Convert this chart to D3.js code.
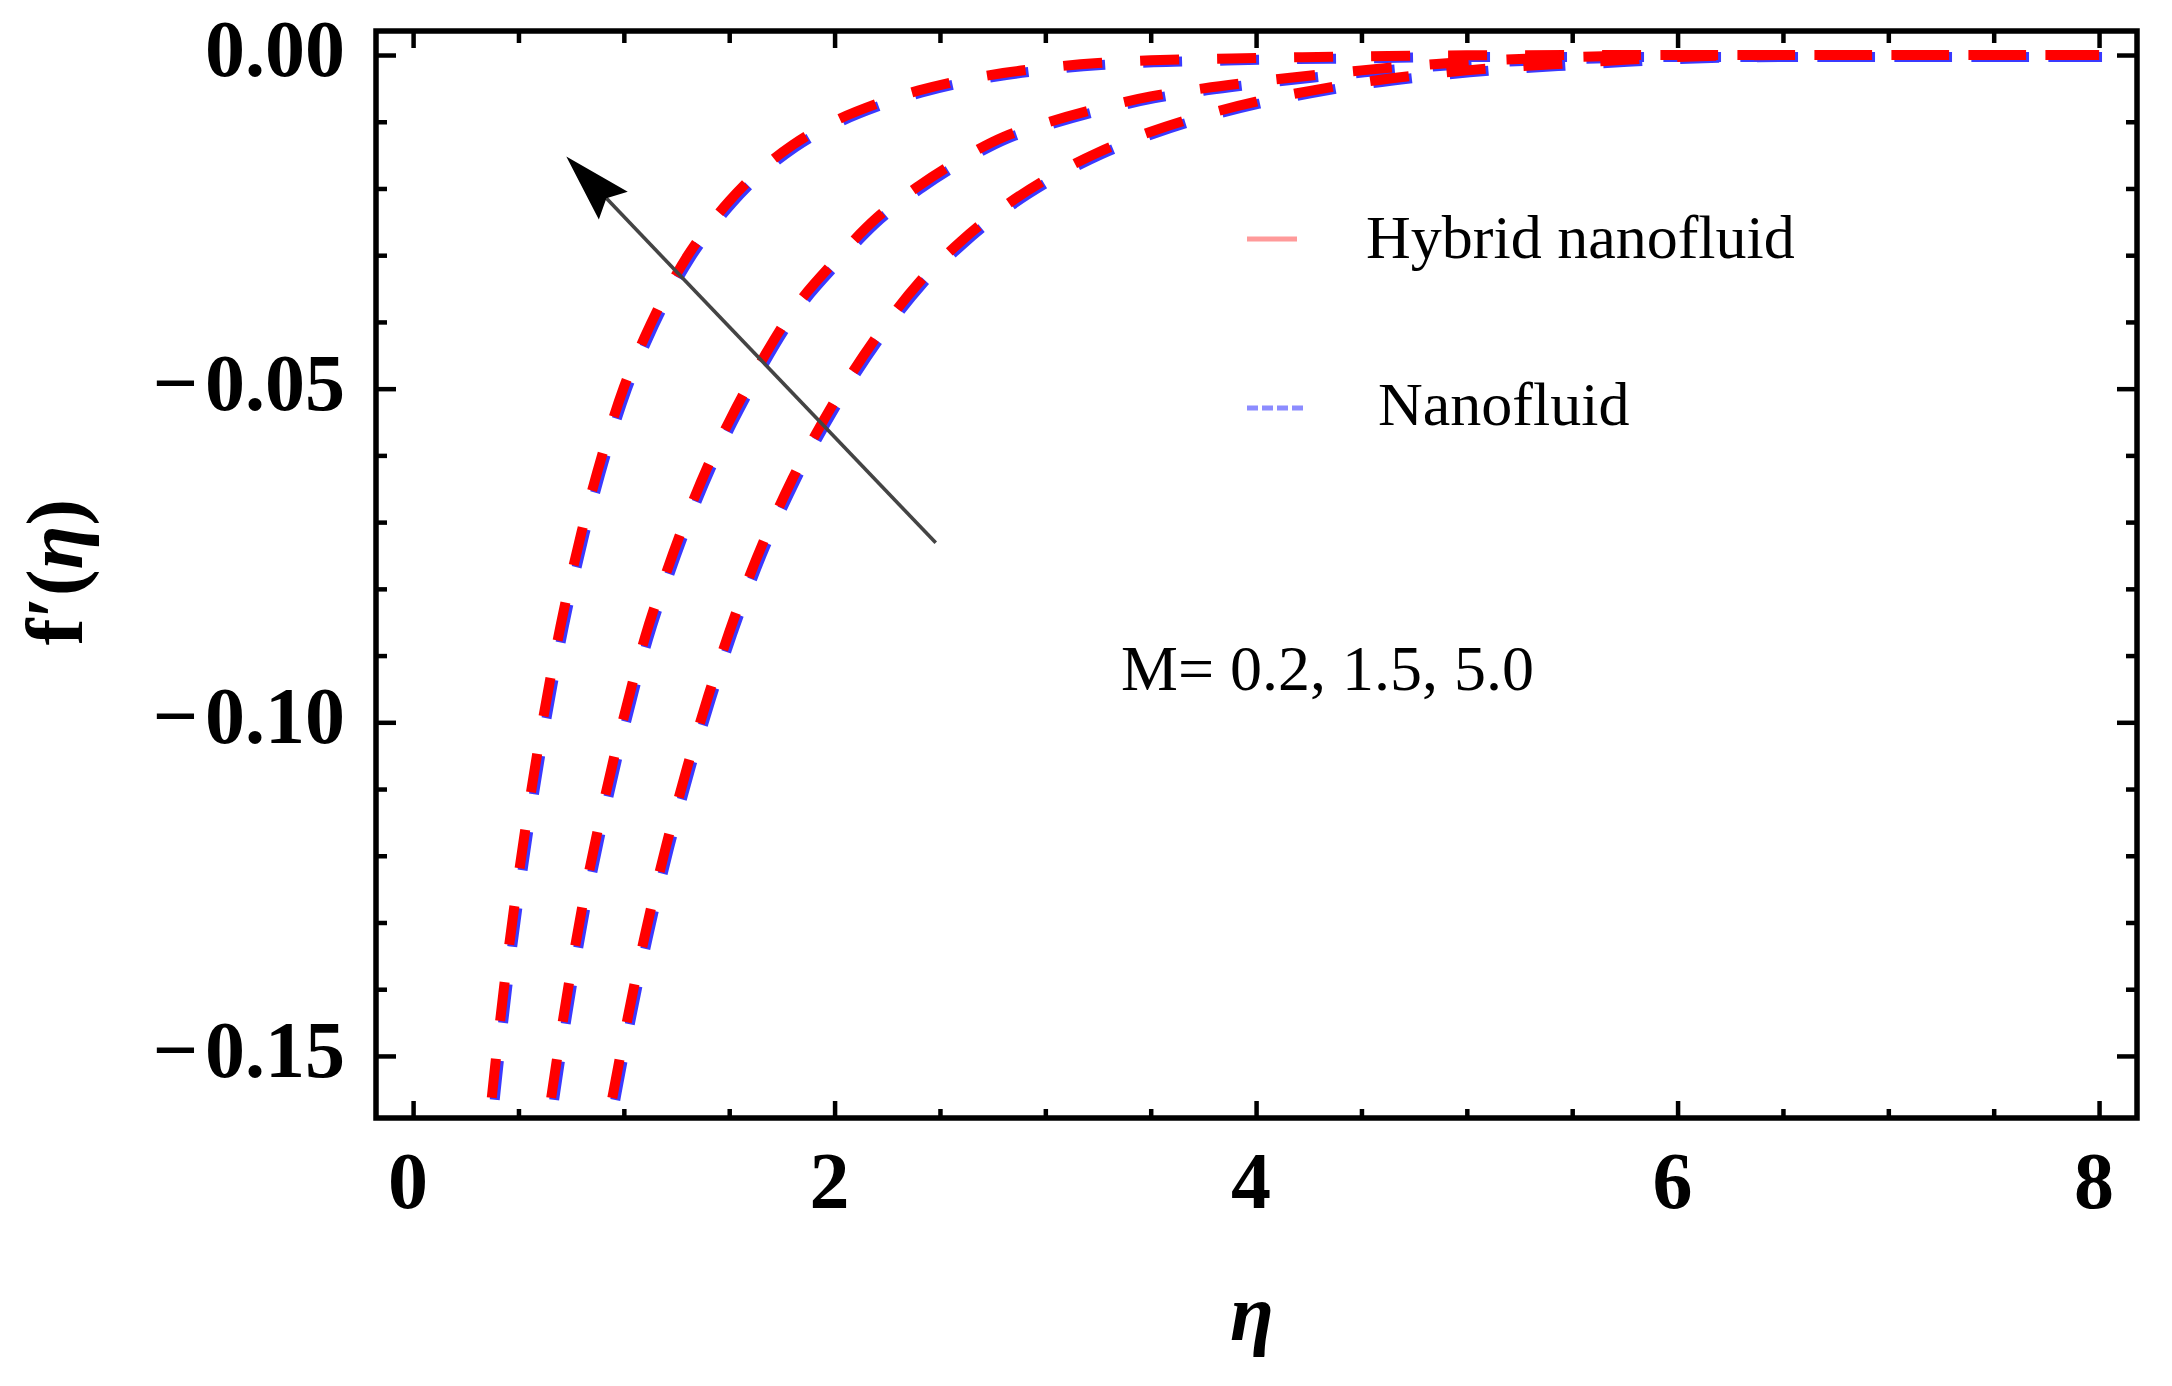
<!DOCTYPE html>
<html><head><meta charset="utf-8">
<script src="https://cdn.jsdelivr.net/npm/d3@7/dist/d3.min.js"></script>
<style>html,body{margin:0;padding:0;background:#fff;} svg{display:block;}</style>
</head><body>
<script>
// ---------- data ----------
const mValues = ["5.0", "1.5", "0.2"];   // left, middle, right curve

// Hybrid nanofluid (red)
const etaHybridM50 = [0.361,0.40,0.45,0.50,0.60,0.70,0.80,0.90,1.00,1.10,1.20,1.30,1.40,1.50,1.60,1.80,2.00,2.20,2.40,2.60,2.80,3.00,3.25,3.50,3.75,4.00,4.50,5.00,6.00,7.00,8.00];
const fHybridM50   = [-0.1600,-0.1484,-0.1349,-0.1231,-0.1026,-0.0855,-0.0714,-0.0596,-0.0498,-0.0422,-0.0357,-0.0302,-0.0257,-0.0219,-0.0186,-0.0135,-0.0099,-0.0073,-0.0053,-0.0038,-0.0027,-0.0019,-0.0012,-0.0008,-0.0006,-0.00045,-0.0002,-0.00005,0,0,0];

const etaHybridM15 = [0.638,0.65,0.70,0.75,0.80,0.90,1.00,1.10,1.20,1.30,1.40,1.50,1.60,1.80,2.00,2.20,2.40,2.60,2.80,3.00,3.25,3.50,3.75,4.00,4.25,4.50,4.75,5.00,5.25,5.50,6.00,7.00,8.00];
const fHybridM15   = [-0.1600,-0.1574,-0.1469,-0.1371,-0.1281,-0.1127,-0.0992,-0.0873,-0.0777,-0.0691,-0.0615,-0.0549,-0.0489,-0.0384,-0.0309,-0.0244,-0.0196,-0.0156,-0.0123,-0.0102,-0.0080,-0.0062,-0.0050,-0.0040,-0.0031,-0.0023,-0.0016,-0.0010,-0.0006,-0.0003,0,0,0];

const etaHybridM02 = [0.924,0.95,1.00,1.10,1.20,1.30,1.40,1.50,1.60,1.80,2.00,2.20,2.40,2.60,2.80,3.00,3.25,3.50,3.75,4.00,4.25,4.50,4.75,5.00,5.25,5.50,5.75,6.00,6.50,7.00,8.00];
const fHybridM02   = [-0.1600,-0.1555,-0.1472,-0.1319,-0.1186,-0.1068,-0.0961,-0.0865,-0.0778,-0.0635,-0.0519,-0.0422,-0.0341,-0.0279,-0.0228,-0.0187,-0.0146,-0.0115,-0.0090,-0.0070,-0.0054,-0.0041,-0.0031,-0.0023,-0.0017,-0.0012,-0.0007,-0.0003,0,0,0];

// Nanofluid (blue)
const etaNanoM50 = [0.375,0.414,0.464,0.514,0.614,0.714,0.814,0.914,1.014,1.114,1.214,1.314,1.414,1.514,1.614,1.814,2.014,2.214,2.414,2.614,2.814,3.014,3.264,3.514,3.764,4.014,4.514,5.014,6.014,7.014,8.014];
const fNanoM50   = [-0.1603,-0.1487,-0.1352,-0.1234,-0.1029,-0.0858,-0.0717,-0.0599,-0.0501,-0.0425,-0.0360,-0.0305,-0.0260,-0.0222,-0.0189,-0.0138,-0.0102,-0.0076,-0.0056,-0.0041,-0.0030,-0.0022,-0.0015,-0.0011,-0.0009,-0.0007,-0.0005,-0.0003,-0.0003,-0.0003,-0.0003];

const etaNanoM15 = [0.652,0.664,0.714,0.764,0.814,0.914,1.014,1.114,1.214,1.314,1.414,1.514,1.614,1.814,2.014,2.214,2.414,2.614,2.814,3.014,3.264,3.514,3.764,4.014,4.264,4.514,4.764,5.014,5.264,5.514,6.014,7.014,8.014];
const fNanoM15   = [-0.1603,-0.1577,-0.1472,-0.1374,-0.1284,-0.1130,-0.0995,-0.0876,-0.0780,-0.0694,-0.0618,-0.0552,-0.0492,-0.0387,-0.0312,-0.0247,-0.0199,-0.0159,-0.0126,-0.0105,-0.0083,-0.0065,-0.0053,-0.0043,-0.0034,-0.0026,-0.0019,-0.0013,-0.0009,-0.0006,-0.0003,-0.0003,-0.0003];

const etaNanoM02 = [0.938,0.964,1.014,1.114,1.214,1.314,1.414,1.514,1.614,1.814,2.014,2.214,2.414,2.614,2.814,3.014,3.264,3.514,3.764,4.014,4.264,4.514,4.764,5.014,5.264,5.514,5.764,6.014,6.514,7.014,8.014];
const fNanoM02   = [-0.1603,-0.1558,-0.1475,-0.1322,-0.1189,-0.1071,-0.0964,-0.0868,-0.0781,-0.0638,-0.0522,-0.0425,-0.0344,-0.0282,-0.0231,-0.0190,-0.0149,-0.0118,-0.0093,-0.0073,-0.0057,-0.0044,-0.0034,-0.0026,-0.0020,-0.0015,-0.0010,-0.0006,-0.0003,-0.0003,-0.0003];

// axes
const xDomain = [-0.176, 8.18];
const yDomain = [-0.1593, 0.0036];
const xTicksMajor = [0, 2, 4, 6, 8];
const xTickLabels = ["0", "2", "4", "6", "8"];
const xTicksMinor = [0.5, 1, 1.5, 2.5, 3, 3.5, 4.5, 5, 5.5, 6.5, 7, 7.5];
const yTicksMajor = [0, -0.05, -0.10, -0.15];
const yTickLabels = ["0.00", "\u2212\u200A0.05", "\u2212\u200A0.10", "\u2212\u200A0.15"];
const yTicksMinor = [-0.01,-0.02,-0.03,-0.04,-0.06,-0.07,-0.08,-0.09,-0.11,-0.12,-0.13,-0.14];

// annotation
const arrowTail = [2.48, -0.0731];
const arrowTip  = [0.727, -0.0152];
const legendLabels = ["Hybrid nanofluid", "Nanofluid"];
const annotationText = "M= 0.2, 1.5, 5.0";
const xTitle = "\u03B7";

// ---------- drawing ----------
const W = 2172, H = 1386;
const L = 376, R = 2137, T = 31, B = 1118;
const serif = "'Liberation Serif','Times New Roman',Times,serif";

const svg = d3.select("body").append("svg").attr("width", W).attr("height", H);
svg.append("rect").attr("width", W).attr("height", H).attr("fill", "#fff");

const x = d3.scaleLinear().domain(xDomain).range([L, R]);
const y = d3.scaleLinear().domain(yDomain).range([B, T]);

svg.append("defs").append("clipPath").attr("id", "plotclip")
  .append("rect").attr("x", L + 3).attr("y", T + 3).attr("width", R - L - 6).attr("height", B - T - 6);

const line = d3.line().x(d => x(d[0])).y(d => y(d[1])).curve(d3.curveMonotoneX);
const zip = (a, b) => a.map((v, i) => [v, b[i]]);

const nano = [zip(etaNanoM50, fNanoM50), zip(etaNanoM15, fNanoM15), zip(etaNanoM02, fNanoM02)];
const hybrid = [zip(etaHybridM50, fHybridM50), zip(etaHybridM15, fHybridM15), zip(etaHybridM02, fHybridM02)];

const curves = svg.append("g").attr("clip-path", "url(#plotclip)");
curves.selectAll("path.nano").data(nano).join("path")
  .attr("class", "nano").attr("d", line).attr("fill", "none")
  .attr("stroke", "#3a3aff").attr("stroke-width", 10)
  .attr("stroke-dasharray", "39,38").attr("stroke-dashoffset", 52);
curves.selectAll("path.hyb").data(hybrid).join("path")
  .attr("class", "hyb").attr("d", line).attr("fill", "none")
  .attr("stroke", "#ff0000").attr("stroke-width", 10)
  .attr("stroke-dasharray", "39,38").attr("stroke-dashoffset", 52);

// ticks (inside) on all four sides
function styleAxis(g) {
  g.select(".domain").remove();
  g.selectAll("line").attr("stroke", "#000").attr("stroke-width", 4.5);
  g.selectAll("text").remove();
}
const majX = 17, minX = 9, majY = 20, minY = 11;
svg.append("g").attr("transform", `translate(0,${B})`).call(d3.axisBottom(x).tickValues(xTicksMajor).tickSize(-majX)).call(styleAxis);
svg.append("g").attr("transform", `translate(0,${B})`).call(d3.axisBottom(x).tickValues(xTicksMinor).tickSize(-minX)).call(styleAxis);
svg.append("g").attr("transform", `translate(0,${T})`).call(d3.axisTop(x).tickValues(xTicksMajor).tickSize(-majX)).call(styleAxis);
svg.append("g").attr("transform", `translate(0,${T})`).call(d3.axisTop(x).tickValues(xTicksMinor).tickSize(-minX - 3)).call(styleAxis);
svg.append("g").attr("transform", `translate(${L},0)`).call(d3.axisLeft(y).tickValues(yTicksMajor).tickSize(-majY)).call(styleAxis);
svg.append("g").attr("transform", `translate(${L},0)`).call(d3.axisLeft(y).tickValues(yTicksMinor).tickSize(-minY)).call(styleAxis);
svg.append("g").attr("transform", `translate(${R},0)`).call(d3.axisRight(y).tickValues(yTicksMajor).tickSize(-majY)).call(styleAxis);
svg.append("g").attr("transform", `translate(${R},0)`).call(d3.axisRight(y).tickValues(yTicksMinor).tickSize(-minY)).call(styleAxis);

// frame
svg.append("rect").attr("x", L).attr("y", T).attr("width", R - L).attr("height", B - T)
  .attr("fill", "none").attr("stroke", "#000").attr("stroke-width", 5.5);

// tick labels
svg.append("g").selectAll("text").data(xTicksMajor).join("text")
  .attr("x", d => x(d) - 5).attr("y", 1208)
  .attr("text-anchor", "middle").attr("font-family", serif).attr("font-weight", "bold")
  .attr("font-size", 80).text((d, i) => xTickLabels[i]);
svg.append("g").selectAll("text").data(yTicksMajor).join("text")
  .attr("x", 345).attr("y", d => y(d) + 21)
  .attr("text-anchor", "end").attr("font-family", serif).attr("font-weight", "bold")
  .attr("font-size", 80).text((d, i) => yTickLabels[i]);

// axis titles
svg.append("text").attr("x", 1252).attr("y", 1340).attr("text-anchor", "middle")
  .attr("font-family", serif).attr("font-style", "italic").attr("font-weight", "bold")
  .attr("font-size", 80).text(xTitle);
const yt = svg.append("text").attr("transform", "translate(82,572) rotate(-90)")
  .attr("text-anchor", "middle").attr("font-family", serif).attr("font-weight", "bold")
  .attr("font-size", 80);
yt.append("tspan").text("f\u2032(");
yt.append("tspan").attr("font-style", "italic").text("\u03B7");
yt.append("tspan").text(")");

// arrow
const tx = x(arrowTip[0]), ty = y(arrowTip[1]);
const sx = x(arrowTail[0]), sy = y(arrowTail[1]);
const len = Math.hypot(tx - sx, ty - sy);
const ux = (tx - sx) / len, uy = (ty - sy) / len;
const headL = 68, headW = 20;
const bx = tx - ux * headL, by = ty - uy * headL;
svg.append("line").attr("x1", sx).attr("y1", sy).attr("x2", bx + ux * 10).attr("y2", by + uy * 10)
  .attr("stroke", "#444").attr("stroke-width", 3.6);
svg.append("path")
  .attr("d", `M${tx},${ty} L${bx - uy * headW},${by + ux * headW} L${bx + ux * 10},${by + uy * 10} L${bx + uy * headW},${by - ux * headW} Z`)
  .attr("fill", "#000");

// legend
const leg = svg.append("g");
leg.append("line").attr("x1", 1247).attr("x2", 1297).attr("y1", 239).attr("y2", 239)
  .attr("stroke", "#ff9a9a").attr("stroke-width", 5);
leg.append("line").attr("x1", 1247).attr("x2", 1304).attr("y1", 408).attr("y2", 408)
  .attr("stroke", "#8c8cff").attr("stroke-width", 5).attr("stroke-dasharray", "11,4");
leg.append("text").attr("x", 1366).attr("y", 258).attr("font-family", serif)
  .attr("font-size", 62).text(legendLabels[0]);
leg.append("text").attr("x", 1378).attr("y", 425).attr("font-family", serif)
  .attr("font-size", 62).text(legendLabels[1]);

// annotation text
svg.append("text").attr("x", 1121).attr("y", 690).attr("font-family", serif)
  .attr("font-size", 64).text(annotationText);
</script>
</body></html>
